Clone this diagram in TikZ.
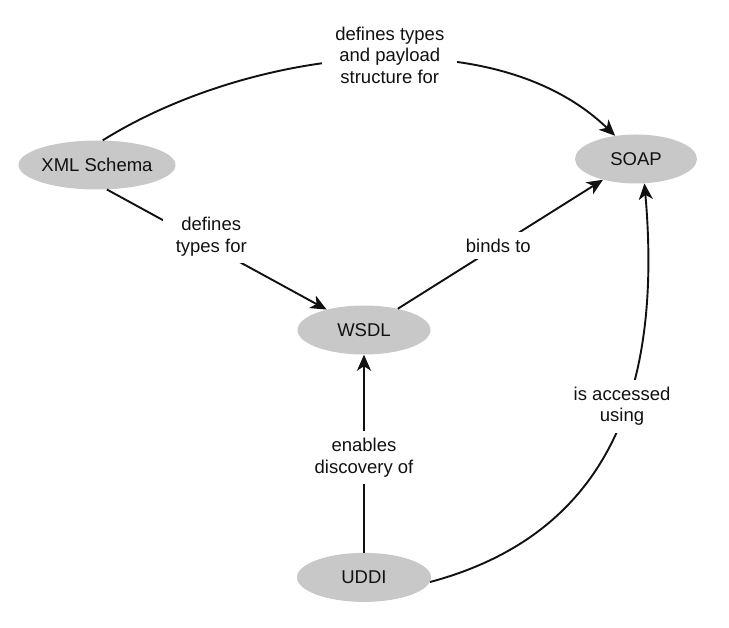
\documentclass[tikz,border=0pt]{standalone}
\usepackage{fontspec}
\setmainfont{Liberation Sans}
\usetikzlibrary{positioning,arrows.meta,shapes.geometric}
\definecolor{ink}{HTML}{111111}
\definecolor{oval}{HTML}{C8C8C8}

\begin{document}
\begin{tikzpicture}[x=1pt, y=1pt,
  concept/.style={ellipse, fill=oval, draw=none, inner sep=0pt, minimum width=#1, minimum height=49pt, text=ink, font=\fontsize{18.5}{21.5}\selectfont},
  concept/.default=134pt,
  lbl/.style={fill=white, align=center, inner xsep=13pt, inner ysep=7pt, text=ink, font=\fontsize{18.5}{21.5}\selectfont},
  arr/.style={-{Stealth[length=16pt, width=14pt, inset=4.5pt]}, line width=1.9pt, draw=ink},
  node distance=198pt]
\useasboundingbox (0,0) rectangle (729,-628);
% ---------------- concepts
\node[concept=143pt] (xml) at (97,-165) {XML Schema};
\node[concept=122pt] (soap) at (636,-159) {SOAP};
\node[concept=133pt] (wsdl) at (364,-330) {WSDL};
\node[concept, below=of wsdl] (uddi) {UDDI};
% ---------------- relations
\draw[arr] (xml.77) to[out=32, in=136, looseness=0.85] node[lbl, pos=0.54, yshift=4pt] (deflbl) {defines types\\and payload\\structure for} (soap.132);
\draw[arr] (xml.-68) -- node[lbl, pos=0.475, yshift=10pt] (typlbl) {defines\\types for} (wsdl);
\draw[arr] (wsdl) -- node[lbl, pos=0.49] (bndlbl) {binds to} (soap);
\draw[arr] (uddi) -- node[lbl, pos=0.48] (dsclbl) {enables\\discovery of} (wsdl);
\draw[arr] (uddi.-4) to[out=15, in=-85, looseness=1.1] node[lbl, pos=0.57, xshift=-4pt] (acclbl) {is accessed\\using} (soap.-71);
\end{tikzpicture}
\end{document}
